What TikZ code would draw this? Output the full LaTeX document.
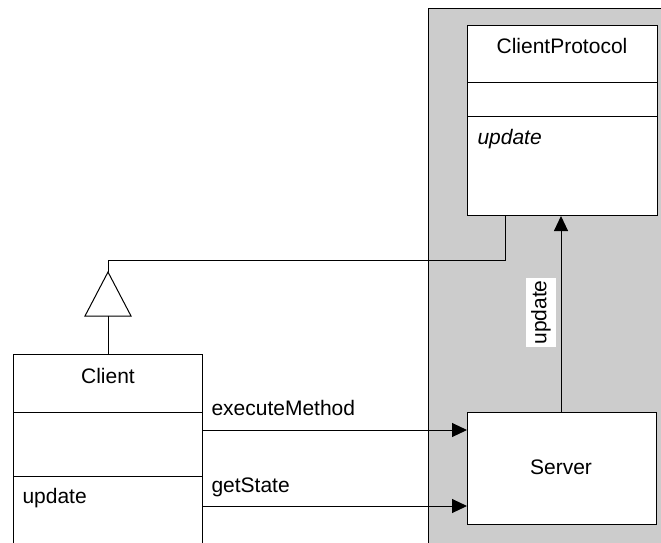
\documentclass[tikz,border=0pt]{standalone}
\usepackage{fontspec}
\setmainfont{Liberation Sans}
\usetikzlibrary{arrows.meta}
\begin{document}
\begin{tikzpicture}[x=1pt,y=-1pt,
  font=\fontsize{21}{25}\selectfont,
  line width=1pt,
  classbox/.style={draw, fill=white, inner sep=0pt, anchor=north west},
  msg/.style={-{Triangle[length=15pt,width=14pt]}},
  lbl/.style={inner sep=0pt},
  tag/.style={fill=white, inner xsep=2.5pt, inner ysep=5pt, rotate=90}]
\useasboundingbox (0,0) rectangle (661,542);
\clip (0,0) rectangle (661,542);

% server-side region
\fill[gray!40] (428,8) rectangle (680,560);
\draw (428,560) -- (428,8) -- (680,8);

% ClientProtocol class
\node[classbox, minimum width=190pt, minimum height=190pt] (cp) at (467,25) {};
\draw (cp.west |- 0,82) -- (cp.east |- 0,82);
\draw (cp.west |- 0,116) -- (cp.east |- 0,116);
\node[lbl, anchor=base] (cpname) at (562,53) {ClientProtocol};
\node[lbl, anchor=base west] (cpop) at (477,144) {\itshape update};

% Client class
\node[classbox, minimum width=189pt, minimum height=220pt] (client) at (13,354) {};
\draw (client.west |- 0,412) -- (client.east |- 0,412);
\draw (client.west |- 0,476) -- (client.east |- 0,476);
\node[lbl, anchor=base] (clname) at (108,383) {Client};
\node[lbl, anchor=base west] (clop) at (22,503) {update};

% Server
\node[classbox, minimum width=189pt, minimum height=112pt] (server) at (467,412) {};
\node[lbl, anchor=base] (svname) at (561,474) {Server};

% generalization Client -> ClientProtocol
\coordinate (apex) at (108,272);
\coordinate (bend) at (108,260);
\coordinate (base) at (108,316);
\draw[fill=white] (apex) -- (85,316) -- (131,316) -- cycle;
\draw (client.north -| base) -- (base);
\draw (apex) -- (bend) -- (bend -| 505,0) -- (cp.south -| 505,0);

% messages
\coordinate (em) at (0,430);
\coordinate (gs) at (0,506);
\draw[msg] (client.east |- em) -- (server.west |- em);
\draw[msg] (client.east |- gs) -- (server.west |- gs);
\node[lbl, anchor=base west] (emlbl) at (211,415) {executeMethod};
\node[lbl, anchor=base west] (gslbl) at (211,492) {getState};

% update: Server -> ClientProtocol
\draw[msg] (server.north -| 561,0) -- (cp.south -| 561,0);
\node[tag] (uplbl) at (541,312.5) {update};
\end{tikzpicture}
\end{document}
